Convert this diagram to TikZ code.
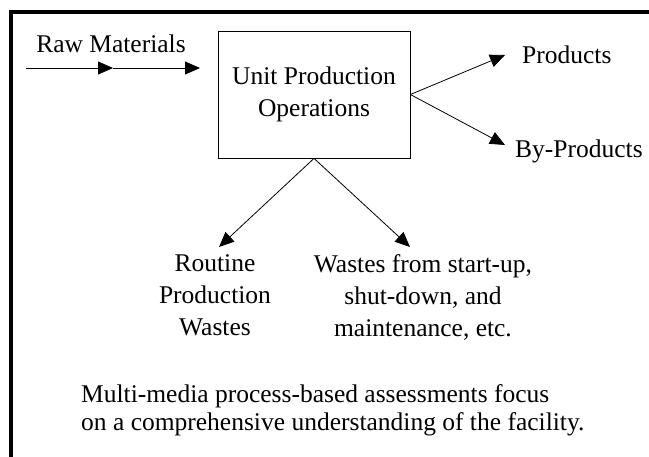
\documentclass[tikz,border=0pt]{standalone}
\usepackage{fontspec}
\setmainfont{Liberation Serif}
\usetikzlibrary{arrows.meta}
\definecolor{ink}{HTML}{000000}
\tikzset{
  frame/.style={draw=ink, line width=4pt},
  unit/.style={draw=ink, line width=0.8pt, minimum width=192pt, minimum height=127pt, align=center, font=\fontsize{25.5}{32}\selectfont},
  flow/.style={draw=ink, line width=0.8pt, -{Triangle[length=15pt,width=13pt]}},
  lab/.style={text=ink, inner sep=0pt, align=center, font=\fontsize{25.5}{32}\selectfont},
  note/.style={text=ink, inner sep=0pt, align=left, font=\fontsize{25.5}{28}\selectfont},
}
\begin{document}
\begin{tikzpicture}[x=1pt,y=-1pt]
  \useasboundingbox (0,0) rectangle (649,456);
  \draw[frame] (11,470) |- (660,12);
  \node[unit] (box) at (314,94.5) {Unit Production\\Operations};
  \node[lab, anchor=base] (raw) at (111,52) {Raw Materials};
  \node[lab, anchor=base west] (prod) at (522,63) {Products};
  \node[lab, anchor=base west] (byprod) at (515,157) {By-Products};
  \node[lab, anchor=north] (routine) at (215,254.5) {Routine\\Production\\Wastes};
  \node[lab, anchor=north] (other) at (423,254.5) {Wastes from start-up,\\shut-down, and\\maintenance, etc.};
  \node[note, anchor=north west] (focus) at (81,384.5) {Multi-media process-based assessments focus\\on a comprehensive understanding of the facility.};
  \coordinate (rawin) at (26,68);
  \coordinate (rawmid) at (113,68);
  \coordinate (rawtip) at (200,68);
  \coordinate (prodtip) at (505,55);
  \coordinate (bytip) at (505,145);
  \coordinate (routtip) at (219,247);
  \coordinate (othtip) at (410,247);
  \draw[flow] (rawin) -- (rawmid);
  \draw[flow] (rawmid) -- (rawtip);
  \draw[flow] (box.east) -- (prodtip);
  \draw[flow] (box.east) -- (bytip);
  \draw[flow] (box.south) -- (routtip);
  \draw[flow] (box.south) -- (othtip);
\end{tikzpicture}
\end{document}
